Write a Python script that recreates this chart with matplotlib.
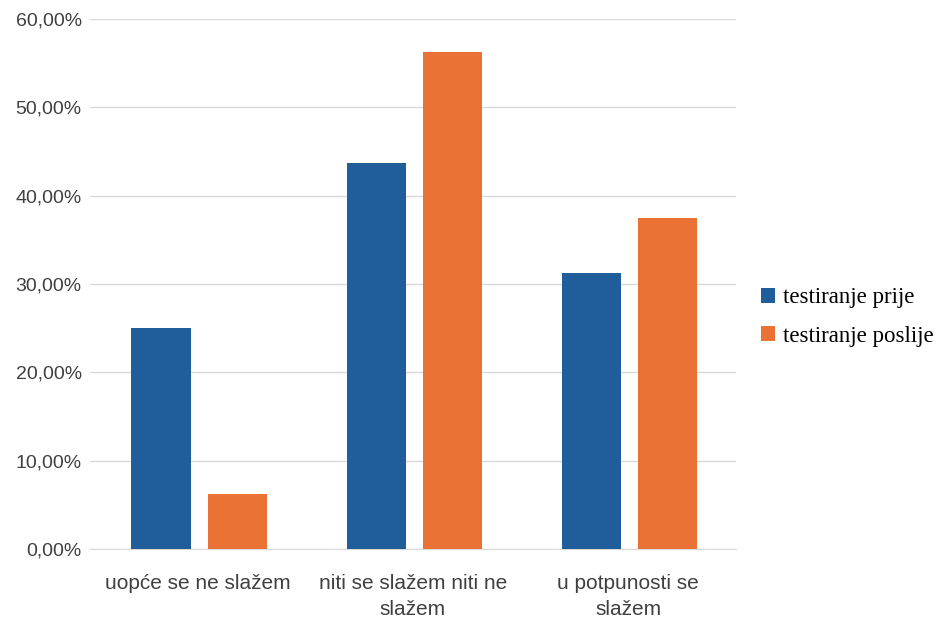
import matplotlib.pyplot as plt
import numpy as np
from matplotlib.ticker import FuncFormatter

categories = ["uopće se ne slažem", "niti se slažem niti ne\nslažem", "u potpunosti se\nslažem"]
prije = [25.0, 43.75, 31.25]
poslije = [6.25, 56.25, 37.5]
series_names = ["testiranje prije", "testiranje poslije"]

blue = "#205E9B"
orange = "#EA7234"
text_col = "#404040"
grid_col = "#D9D9D9"

fig = plt.figure(figsize=(9.36, 6.18), dpi=100)
ax = fig.add_axes([0.0962, 0.1117, 0.6898, 0.8576])

x = np.arange(len(categories))
w = 0.275
ax.bar(x - 0.17, prije, w, color=blue, label=series_names[0], zorder=3)
ax.bar(x + 0.185, poslije, w, color=orange, label=series_names[1], zorder=3)

ax.set_xlim(-0.5, 2.5)
ax.set_ylim(0, 60)
ax.set_yticks(np.arange(0, 61, 10))
ax.yaxis.set_major_formatter(FuncFormatter(lambda v, p: f"{v:.2f}%".replace(".", ",")))
ax.yaxis.grid(True, color=grid_col, linewidth=1, zorder=0)
ax.set_xticks(x)
ax.set_xticklabels(categories, fontsize=15, color=text_col, linespacing=1.45,
                   family="Liberation Sans")
for lab in ax.get_yticklabels():
    lab.set_fontsize(14)
    lab.set_color(text_col)
    lab.set_family("Liberation Sans")
ax.tick_params(axis="both", length=0)
ax.tick_params(axis="x", pad=18)
ax.tick_params(axis="y", pad=6)
for s in ["top", "right", "left"]:
    ax.spines[s].set_visible(False)
ax.spines["bottom"].set_color(grid_col)

fig.legend(loc="center left", bbox_to_anchor=(0.791, 0.487), frameon=False,
           prop={"family": "Liberation Serif", "size": 16.5},
           handlelength=0.6, handleheight=0.6, handletextpad=0.35, labelspacing=0.75)

fig.savefig("out.png", dpi=100)
